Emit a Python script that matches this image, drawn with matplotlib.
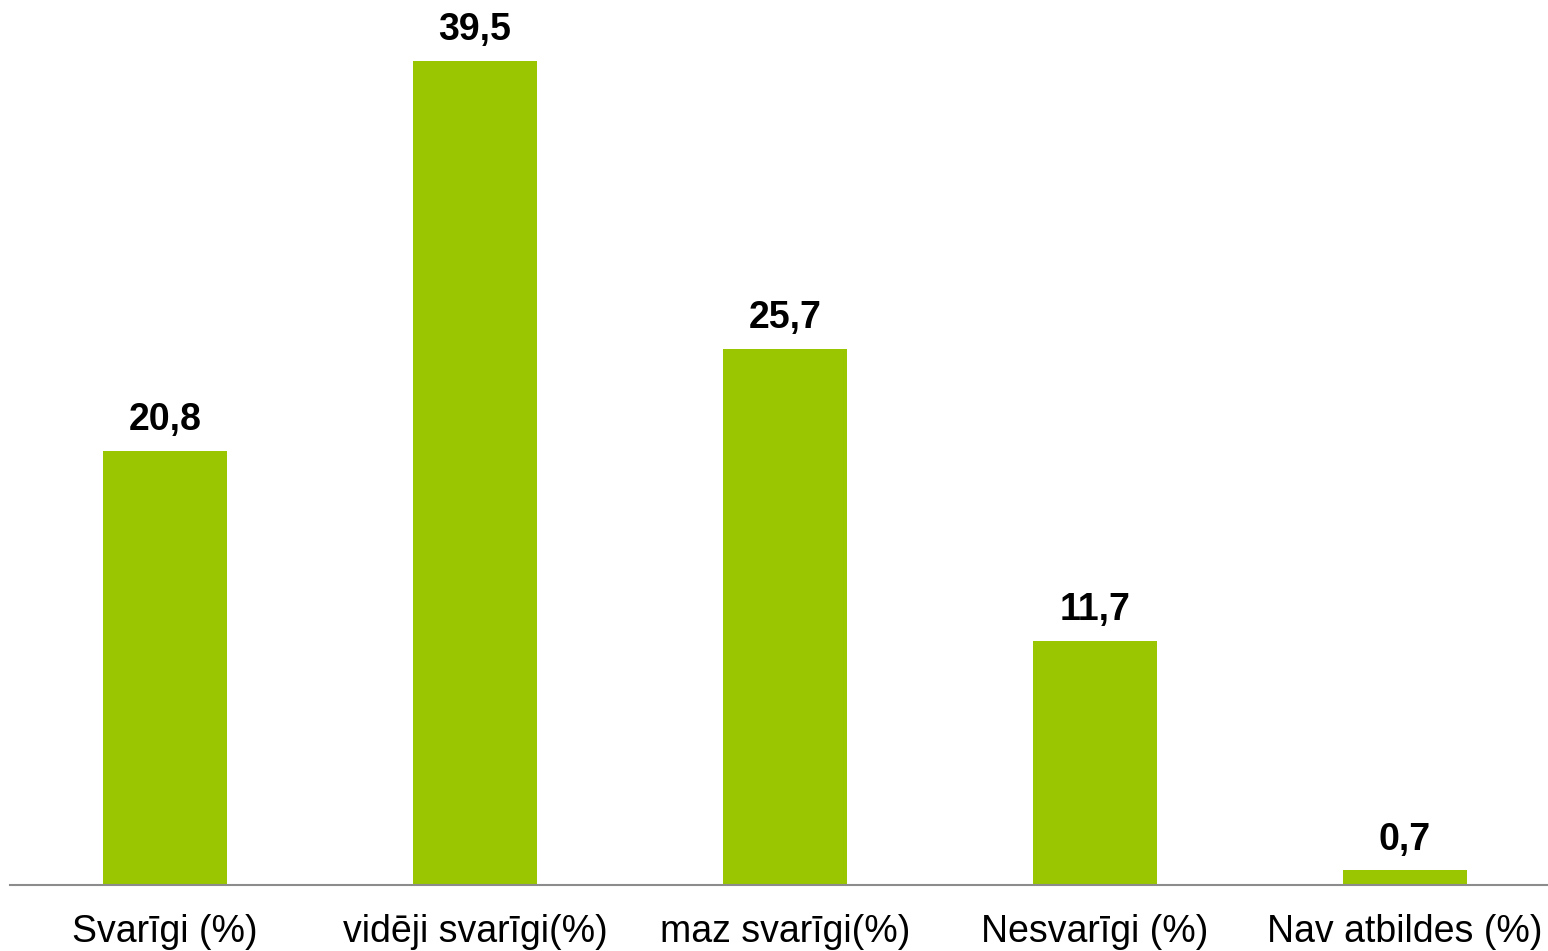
import matplotlib.pyplot as plt
import numpy as np

plt.rcParams["font.family"] = ["Liberation Sans", "DejaVu Sans"]

categories = ["Svarīgi (%)", "vidēji svarīgi(%)", "maz svarīgi(%)",
              "Nesvarīgi (%)", "Nav atbildes (%)"]
values = [20.8, 39.5, 25.7, 11.7, 0.7]
value_labels = ["20,8", "39,5", "25,7", "11,7", "0,7"]

fig = plt.figure(figsize=(15.48, 9.51), dpi=100)
ax = fig.add_axes([10 / 1548, 66 / 951, 1550 / 1548, 885 / 951])

xs = np.arange(len(categories))
ax.bar(xs, values, width=0.4, color="#99c600", zorder=2)

for x, v, lab in zip(xs, values, value_labels):
    ax.annotate(lab, (x, v), xytext=(0, 9), textcoords="offset points",
                ha="center", va="bottom", fontsize=27, fontweight="bold")

ax.set_xlim(-0.5, 4.5)
ax.set_ylim(0, 42.4)
ax.set_xticks(xs)
ax.set_xticklabels(categories, fontsize=27)
ax.tick_params(axis="x", length=0, pad=21)
ax.set_yticks([])

for side in ["top", "right", "left"]:
    ax.spines[side].set_visible(False)
ax.spines["bottom"].set_color("#8c8c8c")
ax.spines["bottom"].set_linewidth(1.5)

fig.savefig("out.png", dpi=100)
